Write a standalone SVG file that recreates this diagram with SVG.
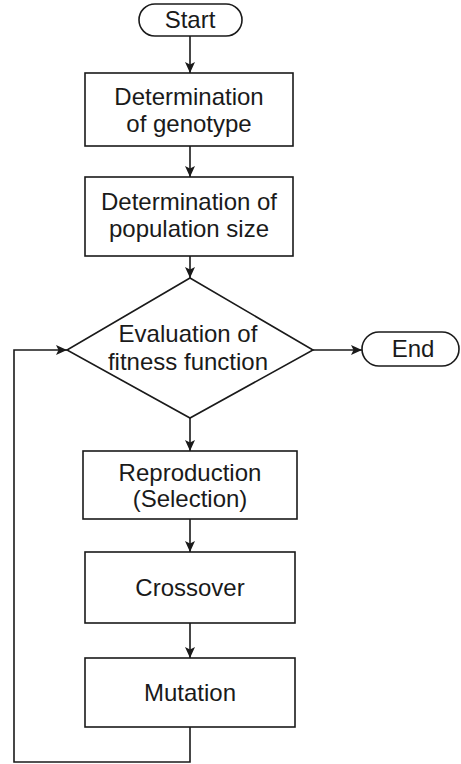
<svg xmlns="http://www.w3.org/2000/svg" width="461" height="764" viewBox="0 0 461 764">
<style>
.s{fill:#fff;stroke:#1a1a1a;stroke-width:1.6}
.t{font-family:"Liberation Sans",Arial,sans-serif;font-size:24px;fill:#1a1a1a;text-anchor:middle}
.c{fill:none;stroke:#1a1a1a;stroke-width:1.6}
</style>
<defs>
<marker id="a" markerUnits="userSpaceOnUse" markerWidth="12" markerHeight="12" viewBox="0 0 12 12" refX="11" refY="6" orient="auto">
<path d="M0,1 L11,6 L0,11 L2.5,6 z" fill="#1a1a1a"/>
</marker>
</defs>
<rect width="461" height="764" fill="#fff"/>
<g id="connectors">
<line class="c" x1="190" y1="36" x2="190" y2="73" marker-end="url(#a)"/>
<line class="c" x1="190" y1="146" x2="190" y2="177" marker-end="url(#a)"/>
<line class="c" x1="190" y1="256" x2="190" y2="278" marker-end="url(#a)"/>
<line class="c" x1="190" y1="418" x2="190" y2="451" marker-end="url(#a)"/>
<line class="c" x1="190" y1="519" x2="190" y2="552" marker-end="url(#a)"/>
<line class="c" x1="190" y1="623" x2="190" y2="658" marker-end="url(#a)"/>
<line class="c" x1="313" y1="350" x2="362" y2="350" marker-end="url(#a)"/>
<polyline class="c" points="190,727 190,762 14,762 14,350 67,350" marker-end="url(#a)"/>
</g>
<g id="start">
<rect class="s" x="139" y="4" width="103" height="32" rx="16"/>
<text class="t" x="190" y="28">Start</text>
</g>
<g id="genotype">
<rect class="s" x="85" y="73" width="208" height="73"/>
<text class="t" x="189" y="105">Determination</text>
<text class="t" x="189" y="132">of genotype</text>
</g>
<g id="population">
<rect class="s" x="85" y="177" width="208" height="79"/>
<text class="t" x="189" y="210">Determination of</text>
<text class="t" x="189" y="237">population size</text>
</g>
<g id="evaluation">
<polygon class="s" points="190,278 313,350 190,418 67,350"/>
<text class="t" x="188" y="342">Evaluation of</text>
<text class="t" x="188" y="370">fitness function</text>
</g>
<g id="end">
<rect class="s" x="362" y="332" width="97" height="34" rx="17"/>
<text class="t" x="413" y="357">End</text>
</g>
<g id="reproduction">
<rect class="s" x="83" y="451" width="214" height="68"/>
<text class="t" x="190" y="481">Reproduction</text>
<text class="t" x="190" y="507">(Selection)</text>
</g>
<g id="crossover">
<rect class="s" x="85" y="552" width="210" height="71"/>
<text class="t" x="190" y="596">Crossover</text>
</g>
<g id="mutation">
<rect class="s" x="85" y="658" width="210" height="69"/>
<text class="t" x="190" y="701">Mutation</text>
</g>
</svg>
